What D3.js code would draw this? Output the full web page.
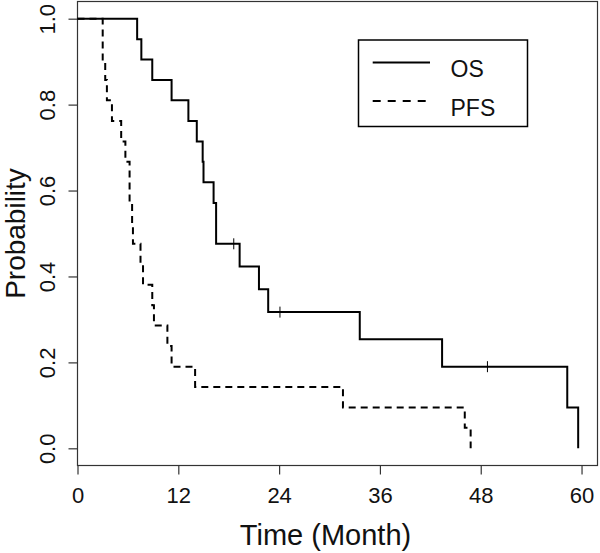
<!DOCTYPE html>
<html>
<head>
<meta charset="utf-8">
<script src="https://cdn.jsdelivr.net/npm/d3@7"></script>
<style>
  html, body { margin: 0; padding: 0; background: #fff; }
  svg { display: block; }
  text { font-family: "Liberation Sans", Arial, sans-serif; fill: #111; }
</style>
</head>
<body>
<svg id="chart" width="600" height="553"></svg>
<script>
// ---- data ----
const xTicks = [0, 12, 24, 36, 48, 60];
const yTicks = [0.0, 0.2, 0.4, 0.6, 0.8, 1.0];

const osTime = [0, 7.1, 7.6, 8.9, 11.2, 13.2, 14.2, 14.9, 15.0, 16.2, 16.5, 19.3, 21.6, 22.7, 33.6, 43.4, 58.3, 59.6];
const osSurv = [1.0, 0.952, 0.905, 0.857, 0.810, 0.762, 0.714, 0.667, 0.619, 0.571, 0.476, 0.423, 0.370, 0.317, 0.254, 0.190, 0.095, 0.0];
const osCensorTime = [18.6, 24.1, 48.8];
const osCensorSurv = [0.476, 0.317, 0.190];

const pfsTime = [0, 3.0, 3.3, 3.5, 4.1, 5.2, 5.7, 6.2, 6.5, 6.6, 7.5, 7.8, 8.9, 9.1, 10.7, 11.2, 14.0, 31.6, 46.1, 46.8];
const pfsSurv = [1.0, 0.905, 0.857, 0.810, 0.762, 0.714, 0.667, 0.571, 0.524, 0.476, 0.429, 0.381, 0.333, 0.286, 0.238, 0.190, 0.143, 0.095, 0.048, 0.0];

const legendLabels = ["OS", "PFS"];

// ---- layout ----
const svg = d3.select("#chart");
const plotL = 77.5, plotR = 597.5, plotT = 1.5, plotB = 465.5;

const x = d3.scaleLinear().domain([0, 61.9]).range([plotL, plotR]);
const y = d3.scaleLinear().domain([-0.04, 1.04]).range([plotB, plotT]);

// frame
svg.append("rect")
  .attr("x", plotL).attr("y", plotT)
  .attr("width", plotR - plotL).attr("height", plotB - plotT)
  .attr("fill", "none").attr("stroke", "#333").attr("stroke-width", 1.2);

// x axis
const xAxis = svg.append("g")
  .attr("transform", `translate(0,${plotB})`)
  .call(d3.axisBottom(x).tickValues(xTicks).tickSize(9).tickFormat(d3.format("d")));
xAxis.select(".domain").remove();
xAxis.selectAll("line").attr("stroke", "#333").attr("stroke-width", 1.2);
xAxis.selectAll("text")
  .attr("y", 37).attr("dy", null)
  .style("font-size", "22px").style("font-family", "Liberation Sans, Arial, sans-serif")
  .attr("fill", "#111");

// y axis
const yAxis = svg.append("g")
  .attr("transform", `translate(${plotL},0)`)
  .call(d3.axisLeft(y).tickValues(yTicks).tickSize(9).tickFormat(d3.format(".1f")));
yAxis.select(".domain").remove();
yAxis.selectAll("line").attr("stroke", "#333").attr("stroke-width", 1.2);
yAxis.selectAll("text")
  .attr("x", null).attr("dy", null)
  .attr("text-anchor", "middle")
  .attr("transform", "translate(-23,0) rotate(-90)")
  .style("font-size", "22px").style("font-family", "Liberation Sans, Arial, sans-serif")
  .attr("fill", "#111");

// axis titles
svg.append("text")
  .attr("x", (plotL + plotR) / 2 - 12).attr("y", 545)
  .attr("text-anchor", "middle")
  .style("font-size", "29px")
  .text("Time (Month)");

svg.append("text")
  .attr("transform", `translate(25,${(plotT + plotB) / 2}) rotate(-90)`)
  .attr("text-anchor", "middle")
  .style("font-size", "28px")
  .text("Probability");

// curves
const line = d3.line().x(d => x(d[0])).y(d => y(d[1])).curve(d3.curveStepAfter);
const osData = osTime.map((t, i) => [t, osSurv[i]]);
const pfsData = pfsTime.map((t, i) => [t, pfsSurv[i]]);

svg.append("path").datum(pfsData)
  .attr("d", line).attr("fill", "none")
  .attr("stroke", "#000").attr("stroke-width", 2)
  .attr("stroke-dasharray", "7,5");

svg.append("path").datum(osData)
  .attr("d", line).attr("fill", "none")
  .attr("stroke", "#000").attr("stroke-width", 2);

// censor marks
svg.selectAll(".censor").data(osCensorTime.map((t, i) => [t, osCensorSurv[i]]))
  .enter().append("line")
  .attr("x1", d => x(d[0])).attr("x2", d => x(d[0]))
  .attr("y1", d => y(d[1]) - 5.5).attr("y2", d => y(d[1]) + 5.5)
  .attr("stroke", "#000").attr("stroke-width", 1);

// legend
const lg = svg.append("g");
lg.append("rect")
  .attr("x", 358.5).attr("y", 40).attr("width", 169).attr("height", 86.5)
  .attr("fill", "#fff").attr("stroke", "#000").attr("stroke-width", 1.5);
const rows = [{ly: 62.5, dash: null}, {ly: 101, dash: "8,7"}];
rows.forEach((r, i) => {
  const l = lg.append("line")
    .attr("x1", 372.7).attr("x2", 430).attr("y1", r.ly).attr("y2", r.ly)
    .attr("stroke", "#000").attr("stroke-width", 2);
  if (r.dash) l.attr("stroke-dasharray", r.dash);
  lg.append("text")
    .attr("x", 450.5).attr("y", r.ly + 14.5)
    .style("font-size", "23px")
    .text(legendLabels[i]);
});
</script>
</body>
</html>
